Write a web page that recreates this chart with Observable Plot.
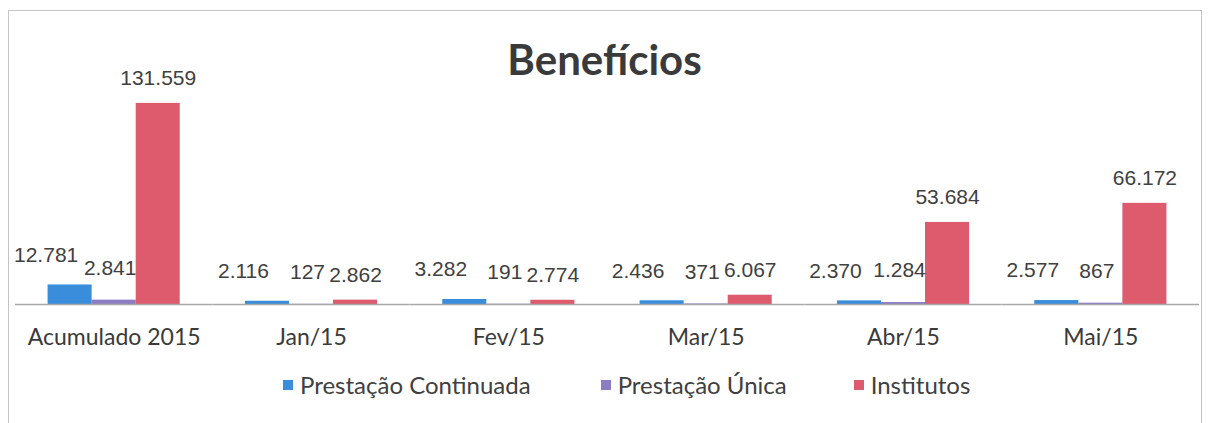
<!DOCTYPE html>
<html>
<head>
<meta charset="utf-8">
<script src="https://cdn.jsdelivr.net/npm/d3@7"></script>
<script src="https://cdn.jsdelivr.net/npm/@observablehq/plot@0.6"></script>
<style>
  body { margin: 0; background: #fff; }
  #wrap { position: relative; width: 1209px; height: 423px; overflow: hidden; background: #fff; }
  #frame { position: absolute; left: 8px; top: 10px; width: 1194px; height: 440px; border: 1px solid #c4c4c4; box-sizing: border-box; }
  #chart { position: absolute; left: 0; top: 0; }
  #title { position: absolute; left: 0; width: 1209px; top: 33px; text-align: center; font: 700 42px Lato, sans-serif; color: #3a3a3a; line-height: 52px; }
  #legend { position: absolute; left: 283px; top: 370px; display: flex; align-items: center; font: 24px Lato, sans-serif; color: #404040; }
  .item { display: flex; align-items: center; }
  .sw { width: 10px; height: 10px; margin-right: 7px; }
</style>
</head>
<body>
<div id="wrap">
  <div id="frame"></div>
  <div id="chart"></div>
  <div id="title">Benefícios</div>
  <div id="legend"></div>
</div>
<script>
const categories = ["Acumulado 2015", "Jan/15", "Fev/15", "Mar/15", "Abr/15", "Mai/15"];
const series = ["Prestação Continuada", "Prestação Única", "Institutos"];
const prestacaoContinuada = [12781, 2116, 3282, 2436, 2370, 2577];
const prestacaoUnica = [2841, 127, 191, 371, 1284, 867];
const institutos = [131559, 2862, 2774, 6067, 53684, 66172];
const colors = ["#3a8ddb", "#8b7cc4", "#de5a6d"];

const valuesBySeries = [prestacaoContinuada, prestacaoUnica, institutos];
const data = [];
categories.forEach((c, i) => {
  series.forEach((s, j) => data.push({ cat: c, series: s, value: valuesBySeries[j][i] }));
});

const fmt = d3.formatLocale({ decimal: ",", thousands: ".", grouping: [3], currency: ["R$", ""] }).format(",d");

const labelStyle = { fontSize: 21, fontFamily: "Liberation Sans, Arial, sans-serif", fill: "#404040" };
const labelOffsets = [{ dx: -24, dy: -30 }, { dx: -4, dy: -32 }, { dx: 0, dy: -25 }];

const textMarks = series.map((s, j) =>
  Plot.text(data.filter(d => d.series === s), {
    fx: "cat", x: "series", y: "value", text: d => fmt(d.value),
    dx: labelOffsets[j].dx, dy: labelOffsets[j].dy, ...labelStyle
  })
);

const chart = Plot.plot({
  width: 1209,
  height: 423,
  marginTop: 90,
  marginBottom: 119,
  marginLeft: 15,
  marginRight: 10,
  style: { background: "transparent", fontFamily: "Lato, sans-serif" },
  fx: { domain: categories, padding: 0, round: false, axis: null, label: null },
  x: { domain: series, paddingInner: 0, paddingOuter: 0.74, round: false, axis: null },
  y: { domain: [0, 140000], axis: null },
  color: { domain: series, range: colors },
  marks: [
    Plot.barY(data, { fx: "cat", x: "series", y: "value", fill: "series" }),
    Plot.ruleY([0], { stroke: "#a9a9a9", strokeWidth: 1.5 }),
    ...textMarks,
    Plot.axisFx({ anchor: "bottom", tickSize: 0, tickPadding: 24, fontSize: 23, fontFamily: "Lato, sans-serif", fill: "#3a3a3a", label: null })
  ]
});
document.getElementById("chart").appendChild(chart);

const legend = document.getElementById("legend");
const gaps = [70, 67, 0];
series.forEach((s, j) => {
  const item = document.createElement("div");
  item.className = "item";
  item.style.marginRight = gaps[j] + "px";
  const sw = document.createElement("span");
  sw.className = "sw";
  sw.style.background = colors[j];
  const t = document.createElement("span");
  t.textContent = s;
  item.appendChild(sw);
  item.appendChild(t);
  legend.appendChild(item);
});
</script>
</body>
</html>
